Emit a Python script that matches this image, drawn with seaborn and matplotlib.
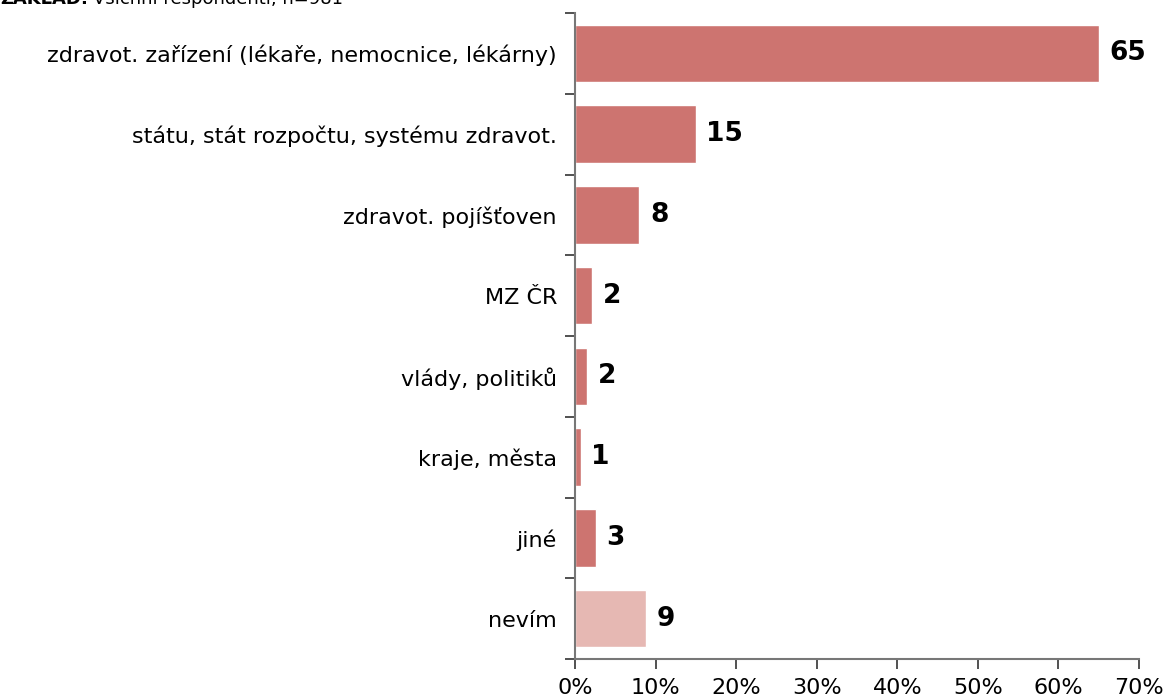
import matplotlib
matplotlib.use("Agg")
import matplotlib.pyplot as plt
import seaborn as sns
import pandas as pd

# data
categories = ['zdravot. zařízení (lékaře, nemocnice, lékárny)',
              'státu, stát rozpočtu, systému zdravot.',
              'zdravot. pojíšťoven',
              'MZ ČR',
              'vlády, politiků',
              'kraje, města',
              'jiné',
              'nevím']
values = [65.0, 15.0, 8.0, 2.1, 1.5, 0.7, 2.6, 8.8]
value_labels = ['65', '15', '8', '2', '2', '1', '3', '9']
bar_colors = ['#CD7470'] * 7 + ['#E6B8B3']

df = pd.DataFrame({'kat': categories, 'pct': values})

sns.set_style('white')
plt.rcParams['font.family'] = ['DejaVu Sans']

fig = plt.figure(figsize=(11.68, 6.98), dpi=100)
ax = fig.add_axes([575 / 1168, 1 - 659 / 698, 564 / 1168, 646 / 698])

sns.barplot(data=df, x='pct', y='kat', hue='kat', palette=bar_colors,
            legend=False, width=0.71, saturation=1, ax=ax)

for i, (v, lab) in enumerate(zip(values, value_labels)):
    ax.text(v + 1.3, i, lab, va='center', ha='left', fontsize=19,
            fontweight='bold', color='black')

ax.set_xlim(0, 70)
ax.set_ylim(7.5, -0.5)
ax.set_xticks(range(0, 71, 10))
ax.set_xticklabels([f'{t}%' for t in range(0, 71, 10)], fontsize=16)
ax.set_yticks(range(len(categories)))
ax.set_yticklabels(categories, fontsize=16)
ax.tick_params(axis='y', which='major', length=0, pad=13, labelcolor='black')
ax.set_yticks([i - 0.5 for i in range(len(categories) + 1)], minor=True)
ax.tick_params(axis='y', which='minor', length=7, width=1.2, color='#333333', direction='out', left=True)
ax.tick_params(axis='x', which='major', length=7, width=1.2, color='#333333', direction='out', bottom=True,
               pad=7, labelcolor='black')
ax.set_xlabel('')
ax.set_ylabel('')

for s in ['top', 'right']:
    ax.spines[s].set_visible(False)
for s in ['left', 'bottom']:
    ax.spines[s].set_color('#777777')
    ax.spines[s].set_linewidth(1.5)

# header, clipped at the top edge like in the reference
fig.text(88 / 1168, 1 - 4 / 698, 'ZÁKLAD:', ha='right', va='baseline',
         fontsize=13, fontweight='bold', color='black')
fig.text(93 / 1168, 1 - 4 / 698, 'Všichni respondenti, n=981', ha='left',
         va='baseline', fontsize=13, color='black')

fig.savefig('out.png', dpi=100)
